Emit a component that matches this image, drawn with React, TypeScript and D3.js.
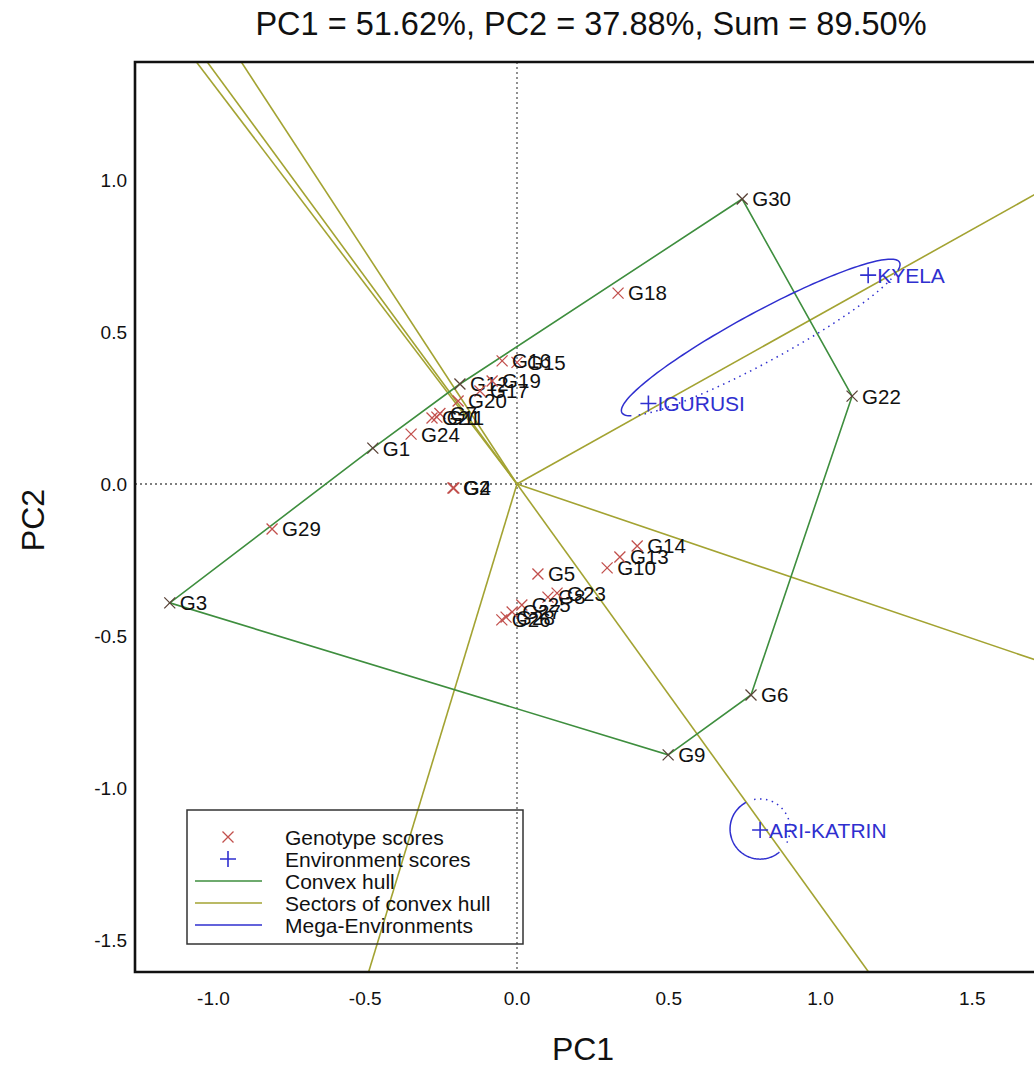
import React from "react";
import * as d3 from "d3";

const genoNames = ["G1","G2","G3","G4","G5","G6","G7","G8","G9","G10","G11","G12","G13","G14","G15","G16","G17","G18","G19","G20","G21","G22","G23","G24","G25","G26","G27","G28","G29","G30"];
const genoPC1 = [-0.475,-0.211,-1.144,-0.208,0.069,0.771,-0.254,0.102,0.498,0.297,-0.264,-0.188,0.339,0.396,0.0,-0.049,-0.122,0.333,-0.082,-0.194,-0.280,1.104,0.132,-0.349,0.016,-0.050,-0.016,-0.036,-0.807,0.742];
const genoPC2 = [0.118,-0.013,-0.391,-0.013,-0.296,-0.694,0.232,-0.372,-0.891,-0.276,0.220,0.329,-0.240,-0.204,0.400,0.405,0.306,0.628,0.339,0.273,0.217,0.289,-0.359,0.164,-0.398,-0.447,-0.421,-0.438,-0.148,0.9375];

const envNames = ["KYELA","IGURUSI","ARI-KATRIN"];
const envPC1 = [1.157, 0.433, 0.801];
const envPC2 = [0.687, 0.265, -1.138];

// mega-environment ellipses: center, semi-axes, angle (deg)
const megaCx = [0.803, 0.801];
const megaCy = [0.482, -1.135];
const megaA = [0.52, 0.099];
const megaB = [0.082, 0.099];
const megaAngle = [28.4, 0];
// solid / dotted parameter ranges (degrees)
const megaSolid = [[-15, 198], [118, 310]];
const megaDotted = [[204, 340], [-27, 110]];

const xTicks = [-1.0, -0.5, 0.0, 0.5, 1.0, 1.5];
const yTicks = [1.0, 0.5, 0.0, -0.5, -1.0, -1.5];
const xTickLabels = ["-1.0", "-0.5", "0.0", "0.5", "1.0", "1.5"];
const yTickLabels = ["1.0", "0.5", "0.0", "-0.5", "-1.0", "-1.5"];

const title = "PC1 = 51.62%, PC2 = 37.88%, Sum = 89.50%";
const legendLabels = ["Genotype scores", "Environment scores", "Convex hull", "Sectors of convex hull", "Mega-Environments"];

const HULL = "#3e8e3e";
const SECTOR = "#a3a332";
const BLUE = "#2f2fcf";
const RED = "#c2504d";
const FONT = "Liberation Sans, Arial, Helvetica, sans-serif";

export default function App() {
  const W = 1034, H = 1075;
  const L = 135, R = 1041, T = 62, B = 972;
  const x = d3.scaleLinear().domain([-1.2586, 1.7265]).range([L, R]);
  const y = d3.scaleLinear().domain([-1.6053, 1.3882]).range([B, T]);

  const pts: [number, number][] = genoPC1.map((v, i) => [v, genoPC2[i]]);
  const hull = d3.polygonHull(pts) as [number, number][];
  const hullSet = new Set(hull.map((p) => pts.findIndex((q) => q[0] === p[0] && q[1] === p[1])));

  const rays = hull.map((a, i) => {
    const b = hull[(i + 1) % hull.length];
    const dx = b[0] - a[0], dy = b[1] - a[1];
    let nx = -dy, ny = dx;
    if (nx * a[0] + ny * a[1] < 0) { nx = -nx; ny = -ny; }
    const len = Math.hypot(nx, ny);
    return [nx / len * 6, ny / len * 6];
  });

  const line = d3.line<[number, number]>().x((d) => x(d[0])).y((d) => y(d[1]));

  const ellipsePath = (k: number, range: number[]) => {
    const ang = (megaAngle[k] * Math.PI) / 180;
    const out: [number, number][] = [];
    for (let t = range[0]; t <= range[1] + 0.001; t += 2) {
      const r = (t * Math.PI) / 180;
      const u = megaA[k] * Math.cos(r), v = megaB[k] * Math.sin(r);
      out.push([megaCx[k] + u * Math.cos(ang) - v * Math.sin(ang), megaCy[k] + u * Math.sin(ang) + v * Math.cos(ang)]);
    }
    return line(out) as string;
  };

  const cross = (cx: number, cy: number, s: number) => `M${cx - s},${cy - s}L${cx + s},${cy + s}M${cx - s},${cy + s}L${cx + s},${cy - s}`;
  const plus = (cx: number, cy: number, s: number) => `M${cx - s},${cy}L${cx + s},${cy}M${cx},${cy - s}L${cx},${cy + s}`;

  const legY = [837, 859, 881, 903, 925];

  return (
    <svg width={W} height={H} style={{ display: "block", position: "absolute", left: 0, top: 0, background: "#fff" }} fontFamily={FONT}>
      <defs>
        <clipPath id="plotclip"><rect x={L} y={T} width={R - L} height={B - T} /></clipPath>
      </defs>
      <rect x={0} y={0} width={W} height={H} fill="#fff" />
      <text x={591} y={35} textAnchor="middle" fontSize={32.5} fill="#111">{title}</text>

      <g clipPath="url(#plotclip)">
        <line x1={L} x2={R} y1={y(0)} y2={y(0)} stroke="#555" strokeWidth={1.3} strokeDasharray="2,3" />
        <line x1={x(0)} x2={x(0)} y1={T} y2={B} stroke="#555" strokeWidth={1.3} strokeDasharray="2,3" />
        {rays.map((r, i) => (
          <line key={"r" + i} x1={x(0)} y1={y(0)} x2={x(r[0])} y2={y(r[1])} stroke={SECTOR} strokeWidth={1.6} />
        ))}
        <path d={(line(hull) as string) + "Z"} fill="none" stroke={HULL} strokeWidth={1.6} />
        {megaCx.map((_, k) => (
          <g key={"m" + k}>
            <path d={ellipsePath(k, megaSolid[k])} fill="none" stroke={BLUE} strokeWidth={1.5} />
            <path d={ellipsePath(k, megaDotted[k])} fill="none" stroke={BLUE} strokeWidth={1.5} strokeDasharray="1.5,4.5" />
          </g>
        ))}
        {genoNames.map((n, i) => (
          <g key={n}>
            <path d={cross(x(genoPC1[i]), y(genoPC2[i]), 5.5)} stroke={hullSet.has(i) ? "#5a4238" : RED} strokeWidth={1.3} />
            <text x={x(genoPC1[i]) + 10} y={y(genoPC2[i])} dy="0.36em" fontSize={20.5} fill="#111">{n}</text>
          </g>
        ))}
        {envNames.map((n, i) => (
          <g key={n}>
            <path d={plus(x(envPC1[i]), y(envPC2[i]), 8)} stroke={BLUE} strokeWidth={1.6} />
            <text x={x(envPC1[i]) + 9} y={y(envPC2[i])} dy="0.36em" fontSize={21} fill={BLUE}>{n}</text>
          </g>
        ))}
      </g>

      <path d={`M${R},${T}L${L},${T}L${L},${B}L${R},${B}`} fill="none" stroke="#111" strokeWidth={2.6} />

      {xTicks.map((t, i) => (
        <text key={"xt" + i} x={x(t)} y={1005} textAnchor="middle" fontSize={19} fill="#111">{xTickLabels[i]}</text>
      ))}
      {yTicks.map((t, i) => (
        <text key={"yt" + i} x={127} y={y(t)} dy="0.36em" textAnchor="end" fontSize={19} fill="#111">{yTickLabels[i]}</text>
      ))}
      <text x={583} y={1060} textAnchor="middle" fontSize={32} fill="#111">PC1</text>
      <text transform="translate(44,520) rotate(-90)" textAnchor="middle" fontSize={32} fill="#111">PC2</text>

      <g>
        <rect x={187} y={810} width={336} height={134} fill="none" stroke="#333" strokeWidth={1.5} />
        <path d={cross(228, legY[0], 5.5)} stroke={RED} strokeWidth={1.3} />
        <path d={plus(228, legY[1], 8)} stroke={BLUE} strokeWidth={1.6} />
        <line x1={195} x2={262} y1={legY[2]} y2={legY[2]} stroke={HULL} strokeWidth={1.6} />
        <line x1={195} x2={262} y1={legY[3]} y2={legY[3]} stroke={SECTOR} strokeWidth={1.6} />
        <line x1={195} x2={262} y1={legY[4]} y2={legY[4]} stroke={BLUE} strokeWidth={1.6} />
        {legendLabels.map((s, i) => (
          <text key={s} x={285} y={legY[i]} dy="0.36em" fontSize={21} fill="#111">{s}</text>
        ))}
      </g>
    </svg>
  );
}
